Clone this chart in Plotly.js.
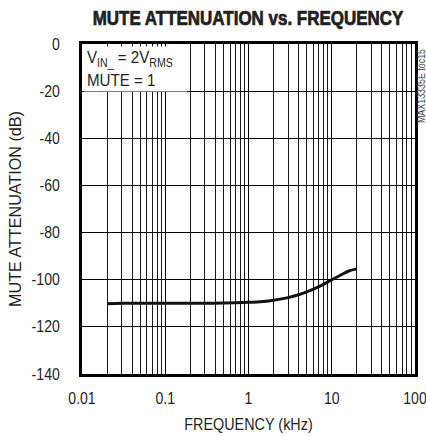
<!DOCTYPE html>
<html><head><meta charset="utf-8">
<script src="https://cdn.plot.ly/plotly-3.0.1.min.js"></script>
<style>body{margin:0;background:#fff}#c{width:426px;height:437px}</style>
</head><body><div id="c"></div>
<script>
const freqKHz = [0.02, 0.03, 0.05, 0.1, 0.2, 0.3, 0.5, 0.7, 1, 1.5, 2, 3, 4, 5, 7, 10, 13, 16, 20];
const muteAttenDb = [-110.2, -110, -110, -110, -110, -110, -109.9, -109.8, -109.6, -109.2, -108.7, -107.6, -106.4, -105.2, -102.9, -100, -97.9, -96.3, -95.4];
const xTicks = [0.01, 0.1, 1, 10, 100];
const xTickText = ['0.01', '0.1', '1', '10', '100'];
const yTicks = [0, -20, -40, -60, -80, -100, -120, -140];
const yTickText = ['0', '-20', '-40', '-60', '-80', '-100', '-120', '-140'];

const sans = '"Liberation Sans", Arial, sans-serif';
const ink = '#231f20';
Plotly.newPlot('c', [{
  x: freqKHz, y: muteAttenDb, type: 'scatter', mode: 'lines',
  line: {color: '#111', width: 3, shape: 'spline'}, hoverinfo: 'skip'
}], {
  width: 426, height: 437,
  margin: {l: 82, r: 11, t: 44, b: 63},
  paper_bgcolor: '#fff', plot_bgcolor: '#fff',
  showlegend: false,
  title: {text: '<b>MUTE ATTENUATION vs. FREQUENCY</b>', xref: 'container', yref: 'container',
    x: 248 / 426, xanchor: 'center', y: 1 - 18 / 437, yanchor: 'middle',
    font: {family: sans, size: 19.5, color: ink}},
  font: {family: sans, color: ink, size: 16},
  xaxis: {
    type: 'log', range: [-2, 2], tickvals: xTicks, ticktext: xTickText, ticklabeloverflow: 'allow',
    showgrid: true, gridcolor: '#000', gridwidth: 1,
    minor: {dtick: 'D1', showgrid: true, gridcolor: '#1a1a1a', gridwidth: 1, ticks: ''},
    showline: true, linecolor: '#000', linewidth: 3, mirror: true, ticks: '', zeroline: false,
    tickfont: {family: sans, size: 16, color: ink}, ticklabelstandoff: 8,
    title: {text: 'FREQUENCY (kHz)', font: {family: sans, size: 16, color: ink}, standoff: 13}
  },
  yaxis: {
    range: [-140, 0], tickvals: yTicks, ticktext: yTickText, showgrid: true, gridcolor: '#000', gridwidth: 1,
    showline: true, linecolor: '#000', linewidth: 3, mirror: true, ticks: '', zeroline: false,
    tickfont: {family: sans, size: 16, color: ink}, ticklabelstandoff: 16,
    title: {text: 'MUTE ATTENUATION (dB)', font: {family: sans, size: 17, color: ink}, standoff: 2}
  },
  annotations: [
    {xref: 'paper', yref: 'paper', x: 0.003, y: 0.994, xanchor: 'left', yanchor: 'top', align: 'left',
     text: 'V<sub>IN_</sub> = 2V<sub>RMS</sub><br>MUTE = 1', showarrow: false, bgcolor: '#fff',
     width: 97, height: 38, valign: 'middle', borderpad: 3,
     font: {family: sans, size: 17, color: ink}},
    {xref: 'paper', yref: 'paper', x: 1.017, y: 1.006, xanchor: 'center', yanchor: 'top', textangle: -90,
     text: 'MAX13335E toc15', showarrow: false, font: {family: sans, size: 10, color: '#444'}}
  ]
}, {staticPlot: true}).then(() => {
  // emulate the narrow (condensed) typeface of the original by horizontal squeezing
  function squeeze(sel, sx) {
    document.querySelectorAll(sel).forEach(t => {
      const x = parseFloat(t.getAttribute('x')) || 0, y = parseFloat(t.getAttribute('y')) || 0;
      const tr = t.getAttribute('transform') || '';
      t.setAttribute('transform', tr + ' translate(' + x + ',' + y + ') scale(' + sx + ',1) translate(' + (-x) + ',' + (-y) + ')');
    });
  }
  squeeze('.xtick text, .ytick text', 0.88);
  squeeze('.g-xtitle text', 0.9);
  squeeze('.g-ytitle text', 0.95);
  squeeze('.annotation-text', 0.89);
  squeeze('.gtitle', 0.87);
  document.querySelectorAll('.gtitle').forEach(t => { t.style.stroke = ink; t.style.strokeWidth = '0.7px'; });
});
</script></body></html>
